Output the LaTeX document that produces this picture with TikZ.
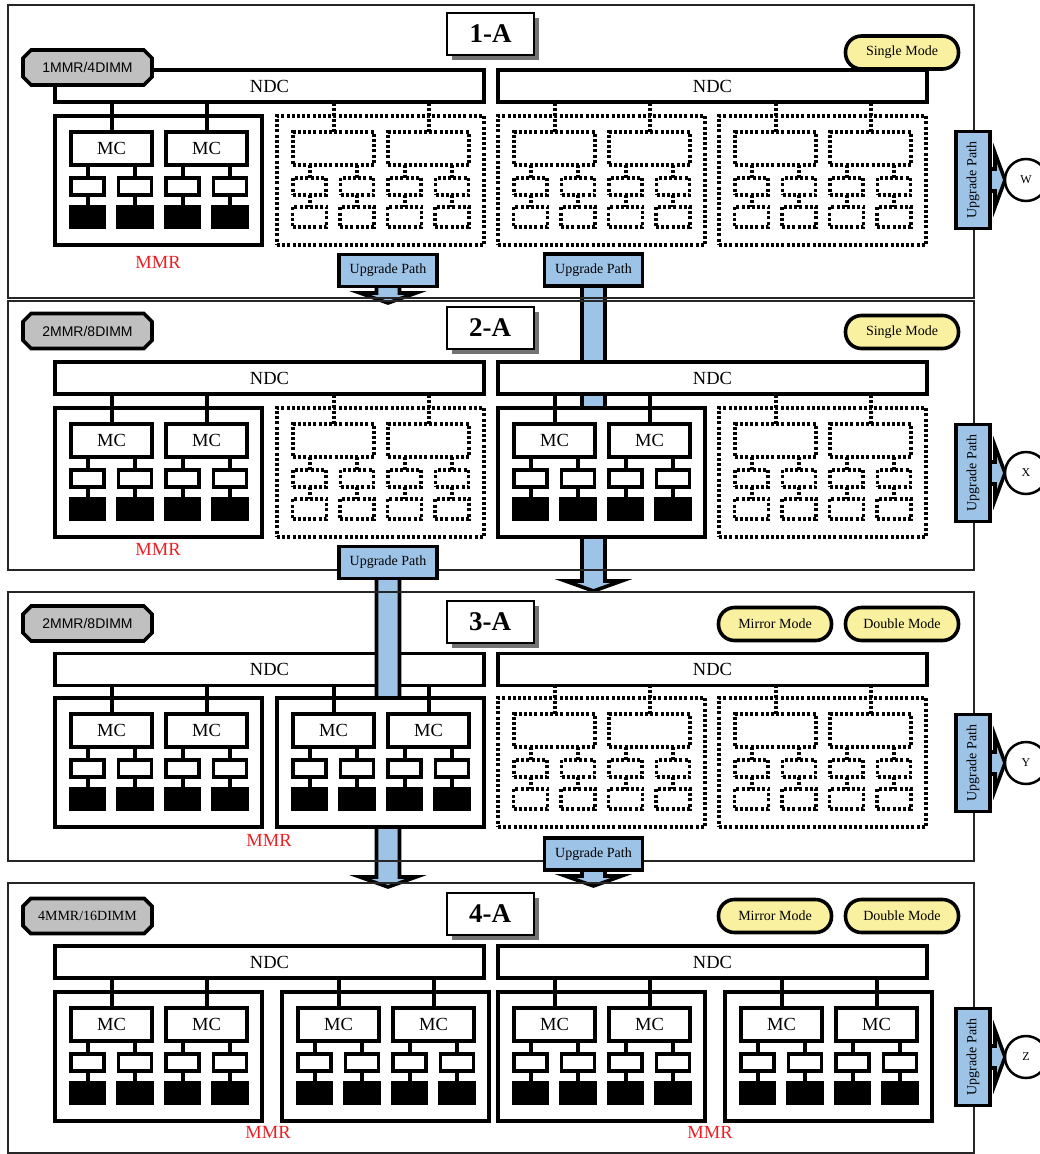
\documentclass[tikz,border=0pt]{standalone}
\usepackage{fontspec}
\setmainfont{Liberation Serif}
\newfontfamily\tagfont{Liberation Sans}
\usepackage{tikz}
\usetikzlibrary{shapes.misc,shadows}

\definecolor{pathblue}{RGB}{157,195,230}
\definecolor{modeyellow}{RGB}{250,241,160}
\definecolor{taggray}{RGB}{192,192,192}
\definecolor{mmrred}{RGB}{235,30,35}

\newcommand{\mmrslot}[6]{%
  \node[slotbox,#4] (#1) at (#2+103.5,#3+64.5) {};
  \node[mcbox,#4] (#1mca) at (#2+56.5,#3+32.5) {#5};
  \node[mcbox,#4] (#1mcb) at (#2+151.5,#3+32.5) {#5};
  \foreach \c/\k in {32.5/1,80/2,127.5/3,175/4}{
    \node[bufbox,#4] (#1b\k) at (#2+\c,#3+70.5) {};
    \node[dimmbox,#4] (#1d\k) at (#2+\c,#3+101) {};
    \draw[wire,#4] (#1b\k) -- (#1d\k);
  }
  \draw[wire,#4] (#1b1.north) -- (#1b1.north |- #1mca.south);
  \draw[wire,#4] (#1b2.north) -- (#1b2.north |- #1mca.south);
  \draw[wire,#4] (#1b3.north) -- (#1b3.north |- #1mcb.south);
  \draw[wire,#4] (#1b4.north) -- (#1b4.north |- #1mcb.south);
  \draw[wire,#4] (#1mca.north) -- (#1mca.north |- #6.south);
  \draw[wire,#4] (#1mcb.north) -- (#1mcb.north |- #6.south);
}
\newcommand{\downstem}[3]{%
  \filldraw[pathshape] (#1-11.5,#2-6) -- (#1-11.5,#3-10) -- (#1-28,#3-10) -- (#1,#3)
    -- (#1+28,#3-10) -- (#1+11.5,#3-10) -- (#1+11.5,#2-6) -- cycle;
}
\newcommand{\sidepath}[3]{%
  \filldraw[pathshape] (984,#2-11) -- (995,#2-11) -- (995,#2-27) -- (1005,#2)
    -- (995,#2+27) -- (995,#2+11) -- (984,#2+11) -- cycle;
  \node[sidebox] (#1box) at (973,#2) {Upgrade Path};
  \node[letter] (#1) at (1026,#2) {#3};
}

\begin{document}
\begin{tikzpicture}[x=1pt, y=-1pt,
    box/.style={draw=black, line width=3.6pt, fill=white, inner sep=0pt, outer sep=0pt},
    ndc/.style={box, minimum width=429pt, minimum height=32pt, font=\fontsize{18.5}{20}\selectfont},
    slotbox/.style={box, minimum width=207pt, minimum height=129pt},
    mcbox/.style={box, minimum width=81pt, minimum height=33pt, font=\fontsize{18.5}{20}\selectfont},
    bufbox/.style={box, minimum width=33pt, minimum height=17pt},
    dimmbox/.style={box, fill=black, minimum width=34pt, minimum height=20pt},
    wire/.style={line width=4pt},
    ghost/.style={dash pattern=on 3pt off 2.2pt, fill=white},
    panel/.style={draw=black!85, line width=2pt},
    pathshape/.style={draw=black, fill=pathblue, line width=3.6pt, miter limit=12},
    upbox/.style={draw=black, line width=3.6pt, fill=pathblue, inner sep=0pt, minimum width=98pt, minimum height=32pt, font=\fontsize{14}{16}\selectfont},
    sidebox/.style={upbox, minimum width=97pt, minimum height=34pt, rotate=90},
    letter/.style={circle, draw=black, line width=2.5pt, fill=white, minimum size=42pt, inner sep=0pt, font=\fontsize{12}{14}\selectfont},
    tag/.style={chamfered rectangle, chamfered rectangle xsep=10pt, draw=black, line width=3.6pt, fill=taggray, minimum width=129pt, minimum height=35pt, inner sep=0pt, font=\fontsize{14}{16}\selectfont},
    mode/.style={draw=black, line width=3.6pt, fill=modeyellow, rounded corners=16pt, minimum width=113pt, minimum height=33pt, inner sep=0pt, font=\fontsize{14}{16}\selectfont},
    titlebox/.style={draw=black, line width=2pt, fill=white, minimum width=87pt, minimum height=42pt, inner sep=0pt, font=\fontsize{27}{30}\selectfont\bfseries, drop shadow={shadow xshift=5pt, shadow yshift=-5pt, fill=black!55, opacity=1}},
    mmrlabel/.style={text=mmrred, font=\fontsize{18.5}{20}\selectfont}]
\useasboundingbox (0,0) rectangle (1039,1154);

% NDC of 3-A goes under the long upgrade path
\node[ndc] (n3l) at (269.5,669.5) {NDC};
\node[ndc] (n3r) at (712.5,669.5) {NDC};

\downstem{388}{287}{303}
\downstem{593.5}{286}{591}
\downstem{388}{578}{887}
\downstem{593.5}{871}{886}

\draw[panel] (8,5) rectangle (974,298);
\draw[panel] (8,301) rectangle (974,570);
\draw[panel] (8,592) rectangle (974,861);
\draw[panel] (8,883) rectangle (974,1153);

\node[upbox] (u1) at (388,270.5) {Upgrade Path};
\node[upbox] (u2) at (593.5,270) {Upgrade Path};
\node[upbox] (u3) at (388,562.5) {Upgrade Path};
\node[upbox] (u4) at (593.5,854) {Upgrade Path};

% 1-A
\node[ndc] (n1l) at (269.5,86) {NDC};
\node[ndc] (n1r) at (712.5,86) {NDC};
\mmrslot{p1s1}{55}{116}{solid}{MC}{n1l}
\mmrslot{p1s2}{277}{116}{ghost}{}{n1l}
\mmrslot{p1s3}{498}{116}{ghost}{}{n1r}
\mmrslot{p1s4}{719}{116}{ghost}{}{n1r}
\node[tag] (g1) at (87.5,67.5) {\tagfont 1MMR/4DIMM};
\node[mode] (m1a) at (902,52.5) {Single Mode};
\node[titlebox] (t1) at (490.5,34) {1-A};
\node[mmrlabel] (r1) at (158,262) {MMR};
\sidepath{w}{180}{W}

% 2-A
\node[ndc] (n2l) at (269.5,378) {NDC};
\node[ndc] (n2r) at (712.5,378) {NDC};
\mmrslot{p2s1}{55}{408}{solid}{MC}{n2l}
\mmrslot{p2s2}{277}{408}{ghost}{}{n2l}
\mmrslot{p2s3}{498}{408}{solid}{MC}{n2r}
\mmrslot{p2s4}{719}{408}{ghost}{}{n2r}
\node[tag] (g2) at (87.5,331) {\tagfont 2MMR/8DIMM};
\node[mode] (m2a) at (902,332) {Single Mode};
\node[titlebox] (t2) at (490,328) {2-A};
\node[mmrlabel] (r2) at (158,549) {MMR};
\sidepath{x}{473}{X}

% 3-A
\mmrslot{p3s1}{55}{698}{solid}{MC}{n3l}
\mmrslot{p3s2}{277}{698}{solid}{MC}{n3l}
\mmrslot{p3s3}{498}{698}{ghost}{}{n3r}
\mmrslot{p3s4}{719}{698}{ghost}{}{n3r}
\node[tag] (g3) at (87.5,623.5) {\tagfont 2MMR/8DIMM};
\node[mode] (m3a) at (775,624) {Mirror Mode};
\node[mode] (m3b) at (902,624) {Double Mode};
\node[titlebox] (t3) at (490,621.5) {3-A};
\node[mmrlabel] (r3) at (269,840) {MMR};
\sidepath{y}{763}{Y}

% 4-A
\node[ndc] (n4l) at (269.5,962) {NDC};
\node[ndc] (n4r) at (712.5,962) {NDC};
\mmrslot{p4s1}{55}{992}{solid}{MC}{n4l}
\mmrslot{p4s2}{282}{992}{solid}{MC}{n4l}
\mmrslot{p4s3}{498}{992}{solid}{MC}{n4r}
\mmrslot{p4s4}{725}{992}{solid}{MC}{n4r}
\node[tag] (g4) at (87.5,916) {4MMR/16DIMM};
\node[mode] (m4a) at (775,916) {Mirror Mode};
\node[mode] (m4b) at (902,916) {Double Mode};
\node[titlebox] (t4) at (490,914) {4-A};
\node[mmrlabel] (r4a) at (268,1132) {MMR};
\node[mmrlabel] (r4b) at (710,1132) {MMR};
\sidepath{z}{1057}{Z}
\end{tikzpicture}
\end{document}
